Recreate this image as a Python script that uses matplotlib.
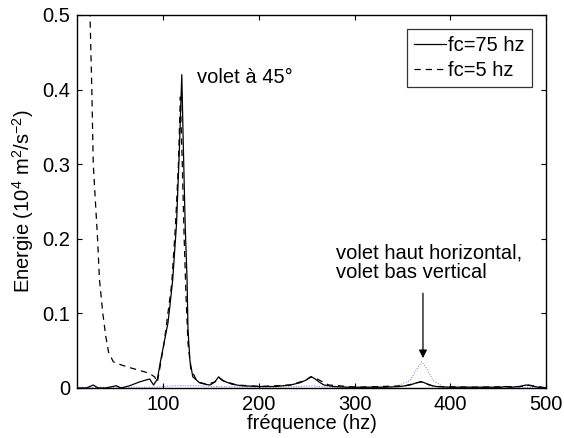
import matplotlib
matplotlib.use("Agg")
import matplotlib.pyplot as plt

plt.rcParams['font.family'] = ['Liberation Sans', 'DejaVu Sans']
plt.rcParams['mathtext.fontset'] = 'custom'
plt.rcParams['mathtext.rm'] = 'Liberation Sans'
plt.rcParams['mathtext.it'] = 'Liberation Sans:italic'
plt.rcParams['mathtext.default'] = 'regular'

# --- data ---
freq_75 = [10, 20, 27, 32, 40, 51, 56, 65, 75, 83, 86, 90, 94, 97, 102, 105, 107, 110,
           114, 117, 119.5, 121, 123, 125, 126, 128, 131, 138, 144, 149, 154, 158, 162,
           172, 182, 200, 218, 233, 243, 250, 254, 258, 263, 268, 278, 293, 313, 333,
           348, 358, 365, 369.5, 373, 378, 385, 398, 423, 453, 458, 463, 473, 479, 485,
           492, 500]
energy_75 = [0.0, 0.0, 0.004, 0.0, 0.0, 0.003, 0.0, 0.003, 0.008, 0.011, 0.012, 0.004,
             0.012, 0.034, 0.067, 0.087, 0.109, 0.145, 0.22, 0.32, 0.42, 0.33, 0.22,
             0.145, 0.078, 0.037, 0.015, 0.007, 0.005, 0.004, 0.008, 0.015, 0.01, 0.005,
             0.003, 0.002, 0.002, 0.004, 0.007, 0.011, 0.015, 0.013, 0.008, 0.004, 0.002,
             0.001, 0.001, 0.001, 0.002, 0.004, 0.007, 0.0085, 0.007, 0.004, 0.002,
             0.001, 0.001, 0.001, 0.002, 0.001, 0.002, 0.004, 0.003, 0.001, 0.0]

freq_5 = [20, 23.6, 25.5, 27, 31.5, 33.5, 37, 40, 43, 48, 56, 66, 74, 85, 91, 94, 97, 101,
          105, 109, 113, 116, 118, 120, 122, 124, 126, 129, 136, 146, 154, 158, 164, 177,
          202, 233, 248, 255, 261, 273, 303, 353, 365, 370, 375, 383, 423, 473, 481,
          492, 500]
energy_5 = [0.6, 0.5, 0.4, 0.3, 0.2, 0.145, 0.1, 0.07, 0.048, 0.035, 0.031, 0.027, 0.024,
            0.02, 0.015, 0.008, 0.03, 0.06, 0.1, 0.14, 0.22, 0.3, 0.39, 0.3, 0.2, 0.12,
            0.06, 0.025, 0.008, 0.005, 0.008, 0.014, 0.009, 0.004, 0.002, 0.004, 0.01,
            0.015, 0.012, 0.004, 0.001, 0.003, 0.007, 0.008, 0.006, 0.002, 0.001, 0.002,
            0.004, 0.002, 0.0]

freq_h = [10, 90, 100, 112, 122, 137, 152, 202, 243, 256, 272, 303, 343, 358, 365, 370,
          376, 382, 392, 453, 483, 500]
energy_h = [0.001, 0.001, 0.002, 0.003, 0.003, 0.003, 0.002, 0.001, 0.002, 0.003, 0.001,
            0.001, 0.002, 0.01, 0.025, 0.035, 0.025, 0.01, 0.002, 0.001, 0.001, 0.001]

x_ticks = [100, 200, 300, 400, 500]
y_ticks = [0, 0.1, 0.2, 0.3, 0.4, 0.5]
y_tick_labels = ['0', '0.1', '0.2', '0.3', '0.4', '0.5']
legend_labels = ['fc=75 hz', 'fc=5 hz']

FS = 14.5

fig = plt.figure(figsize=(5.64, 4.38), dpi=100)
ax = fig.add_axes([0.1365, 0.1142, 0.8315, 0.8516])

ax.plot(freq_h, energy_h, color='#0000ff', linestyle=':', linewidth=0.7, alpha=0.6)
l1, = ax.plot(freq_75, energy_75, color='black', linewidth=0.9)
l2, = ax.plot(freq_5, energy_5, color='black', linewidth=0.9, linestyle=(0, (5, 4)))

ax.set_xlim(10, 500)
ax.set_ylim(0, 0.5)
ax.set_xticks(x_ticks)
ax.set_yticks(y_ticks)
ax.set_yticklabels(y_tick_labels)
ax.tick_params(direction='in', top=True, right=True, length=3.5, width=0.8,
               labelsize=FS, pad=5)
for s in ax.spines.values():
    s.set_linewidth(1.0)

ax.set_xlabel('fréquence (hz)', fontsize=FS, labelpad=0)
ax.set_ylabel('Energie (10$^4$ m$^2$/s$^{-2}$)', fontsize=FS, labelpad=4)

ax.text(135.4, 0.409, 'volet à 45°', fontsize=FS, va='baseline', ha='left')
ax.text(280.5, 0.147, 'volet haut horizontal,\nvolet bas vertical', fontsize=FS,
        va='baseline', ha='left', linespacing=1.05)
ax.annotate('', xy=(371.5, 0.040), xytext=(371.5, 0.127),
            arrowprops=dict(arrowstyle='-|>', color='black', lw=0.9,
                            mutation_scale=12, shrinkA=0, shrinkB=0))

leg = ax.legend([l1, l2], legend_labels, loc='upper right',
                bbox_to_anchor=(0.97, 0.963), fontsize=FS, frameon=True,
                fancybox=False, handlelength=1.6, handletextpad=0.1,
                borderpad=0.35, labelspacing=0.3, borderaxespad=0)
leg.get_frame().set_edgecolor('black')
leg.get_frame().set_linewidth(0.9)

fig.savefig('out.png', dpi=100)
